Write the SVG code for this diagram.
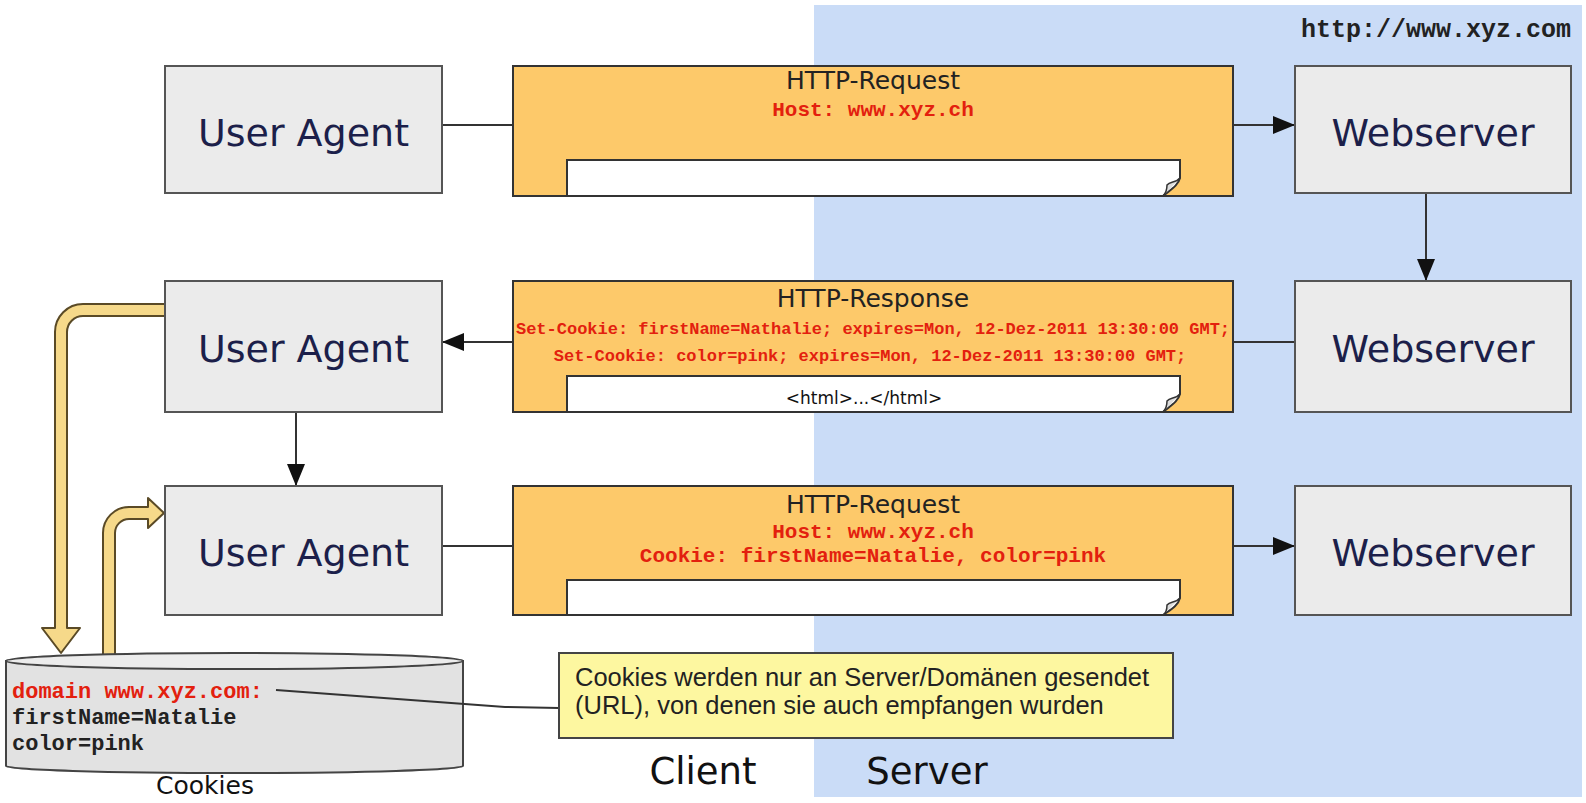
<svg xmlns="http://www.w3.org/2000/svg" width="1586" height="803" viewBox="0 0 1586 803">
<defs>
<style>
.box{fill:#ebebeb;stroke:#555;stroke-width:2}
.msg{fill:#fdc96a;stroke:#333;stroke-width:2}
.doc{fill:#fff;stroke:#333;stroke-width:2}
.fold{fill:#ddd;stroke:#333;stroke-width:1.5}
.lbl{font-family:"DejaVu Sans",Verdana,sans-serif;font-size:38px;fill:#1c1f4a;text-anchor:middle}
.ttl{font-family:"DejaVu Sans",Verdana,sans-serif;font-size:25px;fill:#222;text-anchor:middle}
.red{font-family:"Liberation Mono",monospace;font-weight:bold;font-size:21px;fill:#e3200e;text-anchor:middle}
.reds{font-family:"Liberation Mono",monospace;font-weight:bold;font-size:17px;fill:#e3200e;text-anchor:middle}
.mono{font-family:"Liberation Mono",monospace;font-weight:bold;font-size:22px;fill:#222}
.line{stroke:#333;stroke-width:2;fill:none}
.yarrow{fill:#f6d98a;stroke:#5a4a26;stroke-width:2;stroke-linejoin:round}
.note{font-family:"Liberation Sans",Arial,sans-serif;font-size:25.5px;fill:#222}
</style>
<marker id="ah" viewBox="0 0 22 18" refX="22" refY="9" markerWidth="22" markerHeight="18" markerUnits="userSpaceOnUse" orient="auto">
<path d="M0 0 L22 9 L0 18 Z" fill="#111"/>
</marker>
</defs>
<rect x="814" y="5" width="768" height="792" fill="#cadcf7"/>
<text x="1571" y="37" font-family="Liberation Mono,monospace" font-weight="bold" font-size="25" fill="#222" text-anchor="end">http://www.xyz.com</text>
<text x="703" y="784" font-family="DejaVu Sans,Verdana,sans-serif" font-size="37" fill="#111" text-anchor="middle">Client</text>
<text x="927" y="784" font-family="DejaVu Sans,Verdana,sans-serif" font-size="37" fill="#111" text-anchor="middle">Server</text>

<g id="connectors">
<line class="line" x1="442" y1="125" x2="513" y2="125"/>
<line class="line" x1="1233" y1="125" x2="1295" y2="125" marker-end="url(#ah)"/>
<line class="line" x1="1426" y1="193" x2="1426" y2="281" marker-end="url(#ah)"/>
<line class="line" x1="1295" y1="342" x2="1233" y2="342"/>
<line class="line" x1="513" y1="342" x2="442" y2="342" marker-end="url(#ah)"/>
<line class="line" x1="296" y1="412" x2="296" y2="486" marker-end="url(#ah)"/>
<line class="line" x1="442" y1="546" x2="513" y2="546"/>
<line class="line" x1="1233" y1="546" x2="1295" y2="546" marker-end="url(#ah)"/>
<path class="yarrow" d="M165 304 L83 304 A28 28 0 0 0 55 332 L55 628 L42 628 L61 653 L80 628 L67 628 L67 332 A16 16 0 0 1 83 316 L165 316 Z"/>
<path class="yarrow" d="M103 655 L103 533 A26 26 0 0 1 129 507 L148 507 L148 498 L164 513 L148 528 L148 519 L129 519 A14 14 0 0 0 115 533 L115 655 Z"/>
</g>

<g id="ua1"><rect class="box" x="165" y="66" width="277" height="127"/><text class="lbl" x="303.5" y="146">User Agent</text></g>
<g id="ua2"><rect class="box" x="165" y="281" width="277" height="131"/><text class="lbl" x="303.5" y="362">User Agent</text></g>
<g id="ua3"><rect class="box" x="165" y="486" width="277" height="129"/><text class="lbl" x="303.5" y="566">User Agent</text></g>
<g id="ws1"><rect class="box" x="1295" y="66" width="276" height="127"/><text class="lbl" x="1433" y="146">Webserver</text></g>
<g id="ws2"><rect class="box" x="1295" y="281" width="276" height="131"/><text class="lbl" x="1433" y="362">Webserver</text></g>
<g id="ws3"><rect class="box" x="1295" y="486" width="276" height="129"/><text class="lbl" x="1433" y="566">Webserver</text></g>

<g id="req1">
<rect class="msg" x="513" y="66" width="720" height="130"/>
<path class="doc" d="M567 196 V160 H1180 V178 C1178 186 1170 190 1163 196 Z"/>
<path class="fold" d="M1180 178 C1176 183 1170 181 1167 185 C1167 189 1166 193 1163 196"/>
<text class="ttl" x="873" y="89">HTTP-Request</text>
<text class="red" x="873" y="116">Host: www.xyz.ch</text>
</g>
<g id="resp">
<rect class="msg" x="513" y="281" width="720" height="131"/>
<path class="doc" d="M567 412 V376 H1180 V394 C1178 402 1170 406 1163 412 Z"/>
<path class="fold" d="M1180 394 C1176 399 1170 397 1167 401 C1167 405 1166 409 1163 412"/>
<text class="ttl" x="873" y="307">HTTP-Response</text>
<text class="reds" x="873" y="334">Set-Cookie: firstName=Nathalie; expires=Mon, 12-Dez-2011 13:30:00 GMT;</text>
<text class="reds" x="870" y="361">Set-Cookie: color=pink; expires=Mon, 12-Dez-2011 13:30:00 GMT;</text>
<text x="864" y="404" font-family="DejaVu Sans,Verdana,sans-serif" font-size="17" fill="#111" text-anchor="middle">&lt;html&gt;...&lt;/html&gt;</text>
</g>
<g id="req2">
<rect class="msg" x="513" y="486" width="720" height="129"/>
<path class="doc" d="M567 615 V580 H1180 V598 C1178 606 1170 610 1163 615 Z"/>
<path class="fold" d="M1180 598 C1176 603 1170 601 1167 605 C1167 609 1166 613 1163 615"/>
<text class="ttl" x="873" y="513">HTTP-Request</text>
<text class="red" x="873" y="538">Host: www.xyz.ch</text>
<text class="red" x="873" y="562">Cookie: firstName=Natalie, color=pink</text>
</g>

<g id="cookies">
<path d="M6 661 L6 766 A228 7 0 0 0 463 766 L463 661 Z" fill="#e2e2e2" stroke="#444" stroke-width="2"/>
<ellipse cx="234.5" cy="661" rx="228.5" ry="8" fill="#ececec" stroke="#444" stroke-width="2"/>
<text class="mono" x="12" y="698" style="fill:#e3200e">domain www.xyz.com:</text>
<text class="mono" x="12" y="724">firstName=Natalie</text>
<text class="mono" x="12" y="750">color=pink</text>
<text x="205" y="794" font-family="DejaVu Sans,Verdana,sans-serif" font-size="25" fill="#111" text-anchor="middle">Cookies</text>
</g>

<g id="note">
<polyline class="line" stroke-width="1.5" points="276,690 505,707 559,708"/>
<rect x="559" y="653" width="614" height="85" fill="#fdf7a0" stroke="#444" stroke-width="2"/>
<text class="note" x="575" y="686">Cookies werden nur an Server/Domänen gesendet</text>
<text class="note" x="575" y="714">(URL), von denen sie auch empfangen wurden</text>
</g>
</svg>
